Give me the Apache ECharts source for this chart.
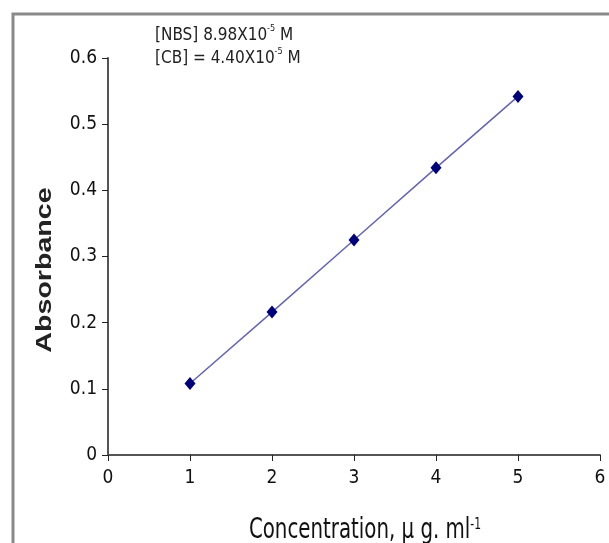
<!DOCTYPE html>
<html>
<head>
<meta charset="utf-8">
<script src="https://cdn.jsdelivr.net/npm/echarts@6/dist/echarts.min.js"></script>
<style>
  html, body { margin: 0; padding: 0; background: #fff; }
  #chart { width: 609px; height: 543px; }
</style>
</head>
<body>
<div id="chart"></div>
<script>
// concentration (µg/ml) vs absorbance
const concentration = [1, 2, 3, 4, 5];
const absorbance = [0.108, 0.216, 0.325, 0.434, 0.542];
const yTicks = [0, 0.1, 0.2, 0.3, 0.4, 0.5, 0.6];

const xTitle = 'Concentration, μ g. ml{sup|-1}';
const yTitle = 'Absorbance';
const note = '[NBS] 8.98X10{sup|-5} M\n[CB] = 4.40X10{sup|-5} M';

const font = "'DejaVu Sans Condensed', 'Liberation Sans Narrow', Arial, sans-serif";
const axisColor = '#555';

const chart = echarts.init(document.getElementById('chart'));

chart.setOption({
  animation: false,
  backgroundColor: '#fff',
  grid: { left: 108, right: 9, top: 58, bottom: 88 },
  xAxis: {
    type: 'value',
    min: 0, max: 6, interval: 1,
    axisLine: { lineStyle: { color: axisColor, width: 2 } },
    axisTick: { inside: false, length: 6, lineStyle: { color: '#222', width: 1 } },
    axisLabel: { fontFamily: font, fontSize: 19, color: '#111', margin: 14 },
    splitLine: { show: false }
  },
  yAxis: {
    type: 'value',
    min: 0, max: 0.6, interval: 0.1,
    axisLine: { show: true, lineStyle: { color: axisColor, width: 2 } },
    axisTick: { show: true, length: 6, lineStyle: { color: '#222', width: 1 } },
    axisLabel: {
      fontFamily: font, fontSize: 19, color: '#111', margin: 11,
      formatter: v => yTicks.includes(Math.round(v * 10) / 10) ? String(Math.round(v * 10) / 10) : ''
    },
    splitLine: { show: false }
  },
  series: [{
    type: 'line',
    data: concentration.map((c, i) => [c, absorbance[i]]),
    symbol: 'diamond',
    symbolSize: [11, 13],
    itemStyle: { color: '#00007a' },
    lineStyle: { color: '#6464b4', width: 1.5 }
  }],
  graphic: [
    {
      type: 'polyline',
      shape: { points: [[13, 543], [13, 14], [609, 14]] },
      style: { stroke: '#8a8a8a', lineWidth: 3, fill: null }
    },
    {
      type: 'text',
      left: 155, top: 24,
      style: {
        text: note,
        fontFamily: font, fontSize: 17, fill: '#222', lineHeight: 23,
        rich: { sup: { fontFamily: font, fontSize: 9, verticalAlign: 'top', padding: [0, 0, 8, 0] } }
      }
    },
    {
      // axis titles: the reference font is stretched, so scale the text
      type: 'text',
      x: 45, y: 270,
      rotation: Math.PI / 2,
      scaleX: 1.3,
      style: {
        text: yTitle,
        fontFamily: "'Liberation Sans', Arial, sans-serif", fontSize: 22, fontWeight: 'bold',
        fill: '#222', align: 'center', verticalAlign: 'middle'
      }
    },
    {
      type: 'text',
      x: 365, y: 531,
      scaleY: 1.25,
      style: {
        text: xTitle,
        fontFamily: font, fontSize: 22, fill: '#111', align: 'center', verticalAlign: 'middle',
        rich: { sup: { fontFamily: font, fontSize: 12, verticalAlign: 'top', padding: [0, 0, 10, 0] } }
      }
    }
  ]
});
</script>
</body>
</html>
